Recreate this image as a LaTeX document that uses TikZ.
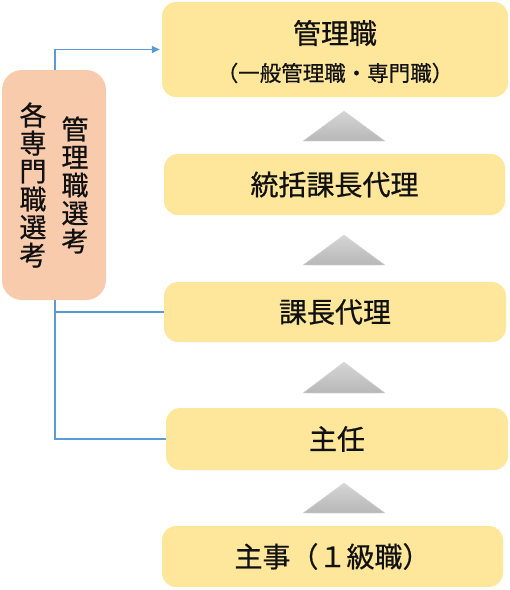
\documentclass[tikz,border=0pt]{standalone}
\usepackage{fontspec}
\newfontfamily\jp[FakeBold=0.6]{Noto Sans CJK JP}
\usetikzlibrary{arrows.meta}
\definecolor{boxy}{HTML}{FEE69A}
\definecolor{peach}{HTML}{F8CBAD}
\definecolor{connblue}{HTML}{5B9BD5}
\definecolor{txt}{HTML}{111111}
\begin{document}
\begin{tikzpicture}[x=1pt,y=-1pt,
  rank/.style={fill=boxy, rounded corners=14pt, inner sep=0pt, text=txt,
    font=\jp\fontsize{28}{30}\selectfont},
  sel/.style={fill=peach, rounded corners=20pt, inner sep=0pt},
  coltext/.style={align=center, inner sep=0pt, text=txt, font=\jp\fontsize{27}{28}\selectfont},
  conn/.style={draw=connblue, line width=1.6pt},
  up/.style={top color=gray!33, bottom color=gray!56, draw=gray!30, line width=0.4pt}]
\useasboundingbox (0,0) rectangle (510,590);
% boxes
\node[rank, minimum width=346pt, minimum height=95pt] (top) at (335,49.5) {};
\node[text=txt, inner sep=0pt, font=\jp\fontsize{28}{30}\selectfont] (toptitle) at (335,33) {管理職};
\node[text=txt, inner sep=0pt, font=\jp\fontsize{21.5}{24}\selectfont] (topsub) at (335,73) {（一般管理職・専門職）};
\node[rank, minimum width=341pt, minimum height=61pt] (tokatsu) at (334.5,184.5) {統括課長代理};
\node[rank, minimum width=342pt, minimum height=60pt] (kacho) at (335,312) {課長代理};
\node[rank, minimum width=342pt, minimum height=62pt] (shunin) at (337,439) {主任};
\node[rank, minimum width=341pt, minimum height=61pt] (shuji) at (332.5,556.5) {主事（１級職）};
% selection box
\node[sel, minimum width=104pt, minimum height=230pt] (sel) at (54,185) {};
\node[coltext] (colR) at (75,185) {管\\理\\職\\選\\考};
\node[coltext] (colL) at (33,185) {各\\専\\門\\職\\選\\考};
% up triangles
\shade[up] (303,141) -- (344,111) -- (385,141) -- cycle;
\shade[up] (303,265) -- (344,235) -- (385,265) -- cycle;
\shade[up] (303,393) -- (344,362) -- (385,393) -- cycle;
\shade[up] (303,513) -- (344,483) -- (385,513) -- cycle;
% connectors
\coordinate (selTop) at (55,70);
\coordinate (selBot) at (55,300);
\draw[conn, -{Triangle[length=8pt,width=7pt]}, shorten >=2pt] (selTop) |- (top.west);
\draw[conn] (selBot) |- (kacho.west);
\draw[conn] (selBot) |- (shunin.west);
\end{tikzpicture}
\end{document}
